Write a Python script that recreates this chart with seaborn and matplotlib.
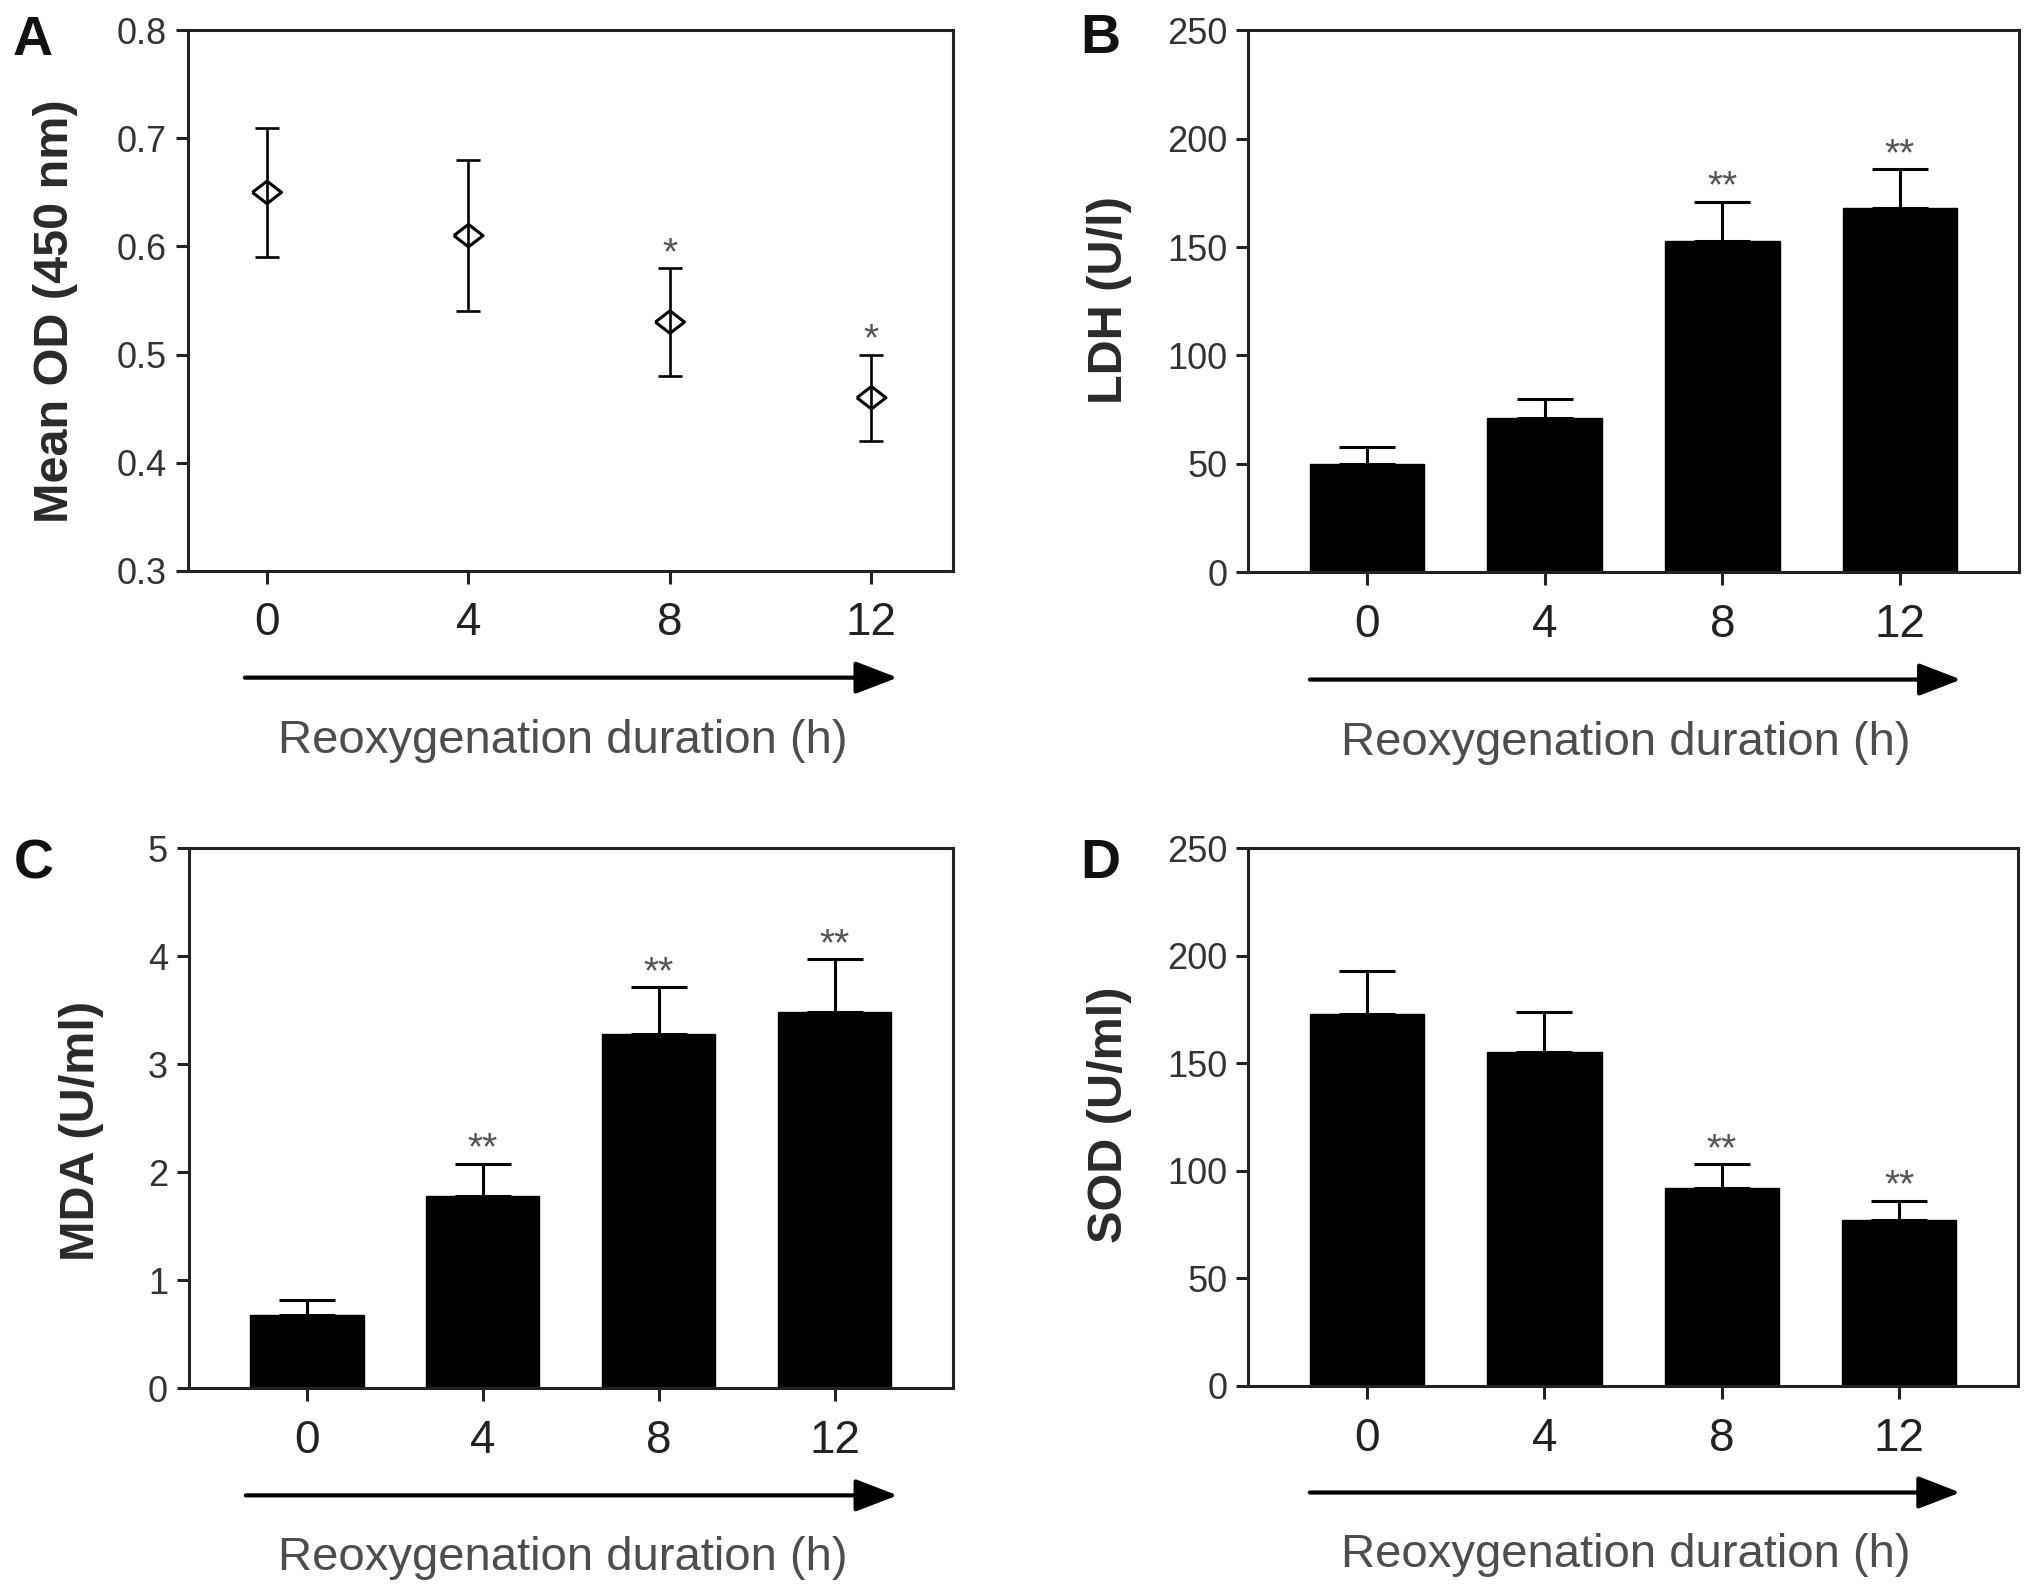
import numpy as np
import pandas as pd
import matplotlib
matplotlib.use("Agg")
import matplotlib.pyplot as plt
import seaborn as sns

# ---------------- data ----------------
time_labels = ["0", "4", "8", "12"]
time_hours = [0, 4, 8, 12]

od_mean = [0.65, 0.61, 0.53, 0.46]
od_err = [0.06, 0.07, 0.05, 0.04]
od_stars = ["", "", "*", "*"]

ldh_mean = [50, 71, 153, 168]
ldh_err = [8, 9, 18, 18]
ldh_stars = ["", "", "**", "**"]

mda_mean = [0.68, 1.78, 3.28, 3.48]
mda_err = [0.14, 0.30, 0.43, 0.49]
mda_stars = ["", "**", "**", "**"]

sod_mean = [173, 155, 92, 77]
sod_err = [20, 19, 11, 9]
sod_stars = ["", "", "**", "**"]

xlabel_text = "Reoxygenation duration (h)"

# ---------------- style ----------------
sns.set_theme(style="ticks")
plt.rcParams["font.family"] = ["Liberation Sans", "DejaVu Sans"]
plt.rcParams["axes.linewidth"] = 2.2
plt.rcParams["axes.edgecolor"] = "#222222"

fig = plt.figure(figsize=(20.31, 15.94), dpi=100)

pos = {
    "A": [0.0925, 0.642, 0.3765, 0.339],
    "B": [0.6146, 0.641, 0.3794, 0.340],
    "C": [0.0930, 0.129, 0.3760, 0.339],
    "D": [0.6146, 0.1305, 0.3790, 0.3375],
}

STAR_COLOR = "#555555"
XLAB_COLOR = "#4d4d4d"


def style_axes(ax, ylabel, ylab_x, ylab_y, arrow_x0, arrow_x1):
    for sp in ax.spines.values():
        sp.set_visible(True)
        sp.set_linewidth(2.2)
        sp.set_color("#222222")
    ax.tick_params(axis="y", length=9, width=2.2, color="#222222", pad=6,
                   labelsize=26, labelcolor="#333333", left=True)
    ax.tick_params(axis="x", length=9, width=2.2, color="#222222", pad=13,
                   labelsize=33, labelcolor="#222222", bottom=True)
    ax.set_xlabel("")
    ax.set_ylabel("")
    ax.text(ylab_x, ylab_y, ylabel, transform=ax.transAxes, rotation=90,
            ha="center", va="center", fontsize=35, fontweight="bold",
            color="#2a2a2a")
    ax.annotate("", xy=(arrow_x1, -0.198), xytext=(arrow_x0, -0.198),
                xycoords="axes fraction", textcoords="axes fraction",
                annotation_clip=False,
                arrowprops=dict(arrowstyle="-|>,head_length=26,head_width=10",
                                mutation_scale=1, lw=3, color="black",
                                shrinkA=0, shrinkB=0))
    ax.text(0.49, -0.337, xlabel_text, transform=ax.transAxes,
            ha="center", va="baseline", fontsize=34, color=XLAB_COLOR)


def add_stars(ax, xs, tops, stars):
    for x, t, s in zip(xs, tops, stars):
        if s:
            ax.annotate(s, xy=(x, t), xytext=(0, 3), textcoords="offset points",
                        ha="center", va="baseline", fontsize=28,
                        color=STAR_COLOR, annotation_clip=False)


# ---------------- Panel A ----------------
axA = fig.add_axes(pos["A"])
axA.errorbar(time_hours, od_mean, yerr=od_err, fmt="none", ecolor="black",
             elinewidth=1.9, capsize=8.4, capthick=1.9, zorder=2)
diamond = [(-1, 0), (0, 0.77), (1, 0), (0, -0.77), (-1, 0)]
sns.scatterplot(x=time_hours, y=od_mean, marker=diamond, s=21 ** 2,
                color="black", linewidth=2.2, ax=axA, zorder=3)
axA.collections[-1].set_facecolor("none")
axA.collections[-1].set_edgecolor("black")
axA.set_xlim(-1.57, 13.61)
axA.set_ylim(0.3, 0.8)
axA.set_xticks(time_hours)
axA.set_xticklabels(time_labels)
axA.set_yticks([0.3, 0.4, 0.5, 0.6, 0.7, 0.8])
axA.set_yticklabels(["0.3", "0.4", "0.5", "0.6", "0.7", "0.8"])
style_axes(axA, "Mean OD (450 nm)", -0.173, 0.48, 0.0746, 0.928)
add_stars(axA, time_hours, np.array(od_mean) + np.array(od_err), od_stars)


def bar_panel(key, means, errs, stars, ylim, yticks, ylabel, ylab_x, ylab_y,
              a0, a1):
    ax = fig.add_axes(pos[key])
    df = pd.DataFrame({"time": time_labels, "value": means})
    sns.barplot(data=df, x="time", y="value", order=time_labels,
                color="black", width=0.645, errorbar=None, ax=ax,
                edgecolor="black", linewidth=1, saturation=1)
    xs = np.arange(len(time_labels))
    ax.errorbar(xs, means, yerr=[np.zeros(len(errs)), errs], fmt="none",
                ecolor="black", elinewidth=2.2, capsize=20.5, capthick=2.2,
                zorder=3)
    ax.set_xlim(-0.67, 3.67)
    ax.set_ylim(*ylim)
    ax.set_yticks(yticks)
    ax.set_yticklabels([str(t) for t in yticks])
    ax.set_xticks(xs)
    ax.set_xticklabels(time_labels)
    style_axes(ax, ylabel, ylab_x, ylab_y, a0, a1)
    add_stars(ax, xs, np.array(means) + np.array(errs), stars)
    return ax


bar_panel("B", ldh_mean, ldh_err, ldh_stars, (0, 250),
          [0, 50, 100, 150, 200, 250], "LDH (U/l)", -0.180, 0.503, 0.080, 0.925)
bar_panel("C", mda_mean, mda_err, mda_stars, (0, 5),
          [0, 1, 2, 3, 4, 5], "MDA (U/ml)", -0.140, 0.476, 0.0746, 0.928)
bar_panel("D", sod_mean, sod_err, sod_stars, (0, 250),
          [0, 50, 100, 150, 200, 250], "SOD (U/ml)", -0.180, 0.504, 0.080, 0.925)

# panel letters
for letter, (x, y) in {"A": (0.016, 0.9655), "B": (0.542, 0.9667),
                       "C": (0.0167, 0.4486), "D": (0.542, 0.449)}.items():
    fig.text(x, y, letter, ha="center", va="baseline", fontsize=40,
             fontweight="bold", color="#111111")

fig.savefig("out.png", dpi=100, facecolor="white")
